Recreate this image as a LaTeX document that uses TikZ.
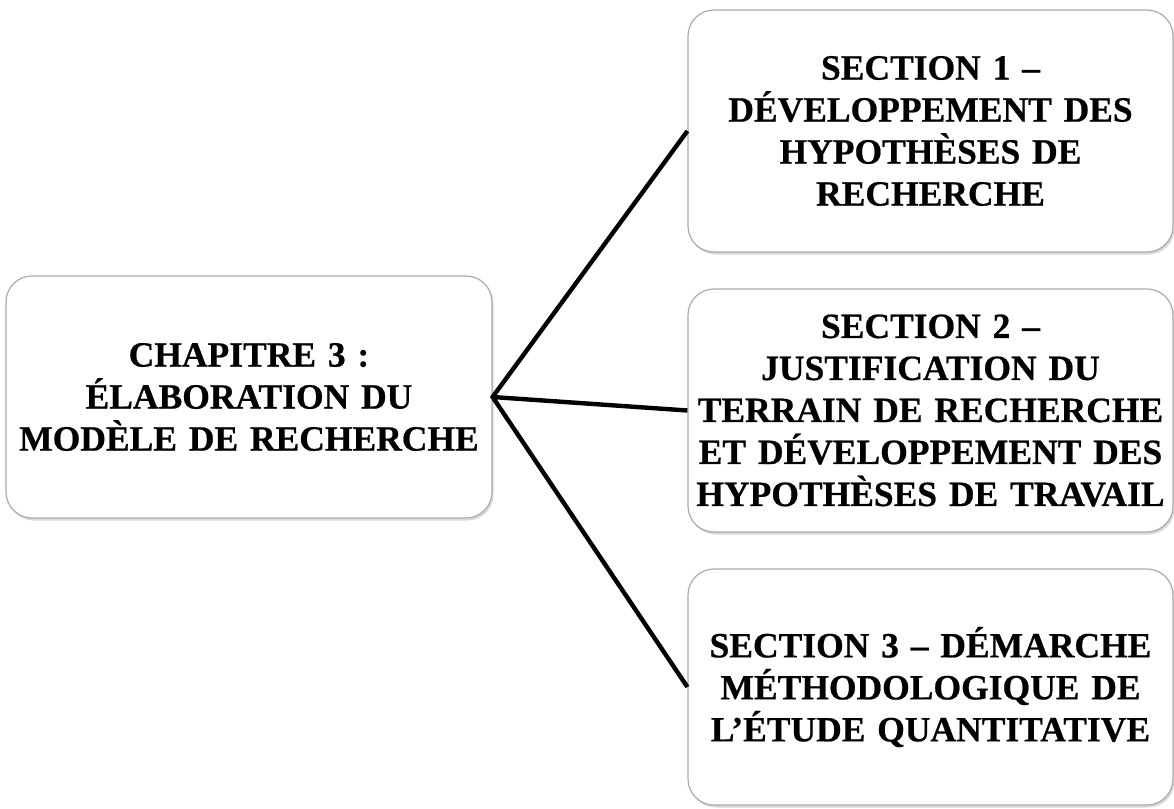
\documentclass[tikz,border=0pt]{standalone}
\usepackage{fontspec}
\setmainfont{Liberation Serif}[BoldFeatures={FakeBold=0.6}]
\usetikzlibrary{shadows}
\begin{document}
\begin{tikzpicture}[x=1pt,y=-1pt,
  box/.style={draw=black!33, line width=1.2pt, fill=white, rounded corners=26pt,
    align=center, inner sep=0pt, text width=#1,
    font=\bfseries\fontsize{35.5}{42}\selectfont,
    drop shadow={shadow xshift=1.5pt, shadow yshift=-2.5pt, opacity=0.25, fill=black!60}},
  link/.style={line width=4.4pt, black}]
\useasboundingbox (0,0) rectangle (1174,808);
\node[box=484pt, minimum width=486pt, minimum height=242pt] (chap) at (249,397)
  {CHAPITRE 3 :\\ÉLABORATION DU\\MODÈLE DE RECHERCHE};
\node[box=484pt, minimum width=485pt, minimum height=242pt] (s1) at (930.5,131)
  {SECTION 1 –\\DÉVELOPPEMENT DES\\HYPOTHÈSES DE\\RECHERCHE};
\node[box=484pt, minimum width=485pt, minimum height=243pt] (s2) at (930.5,410.5)
  {SECTION 2 –\\JUSTIFICATION DU\\TERRAIN DE RECHERCHE\\ET DÉVELOPPEMENT DES\\HYPOTHÈSES DE TRAVAIL};
\node[box=484pt, minimum width=485pt, minimum height=236pt] (s3) at (930.5,687)
  {SECTION 3 – DÉMARCHE\\MÉTHODOLOGIQUE DE\\L’ÉTUDE QUANTITATIVE};
\draw[link, line join=miter] (s1.west) -- (chap.east) -- (s3.west);
\draw[link] (chap.east) -- (s2.west);
\end{tikzpicture}
\end{document}
